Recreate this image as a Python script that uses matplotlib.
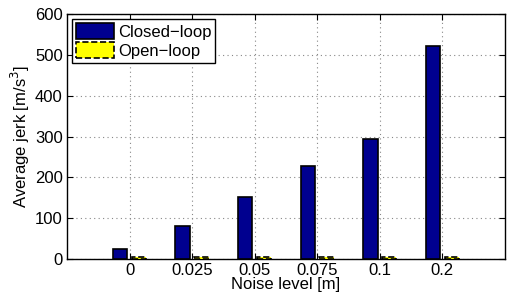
import matplotlib
matplotlib.use('Agg')
import matplotlib.pyplot as plt
import numpy as np

plt.rcParams['font.family'] = ['Liberation Sans', 'DejaVu Sans']
plt.rcParams['font.size'] = 12

noise = ['0', '0.025', '0.05', '0.075', '0.1', '0.2']
closed_loop = [25, 82, 153, 228, 294, 521]
open_loop = [4, 4, 4, 4, 4, 4]

x = np.arange(1, len(noise) + 1)
w = 0.23

fig = plt.figure(figsize=(5.07, 3.01), dpi=100)
ax = fig.add_axes([0.132, 0.1395, 0.864, 0.8135])

ax.bar(x - 0.15, closed_loop, w, color='#00008f', edgecolor='black', linewidth=1.2,
       label='Closed\u2212loop', zorder=3)
ax.bar(x + 0.15, open_loop, w, color='yellow', edgecolor='black', linewidth=1.2,
       linestyle='--', label='Open\u2212loop', zorder=3)

ax.set_xlim(0, 7)
ax.set_ylim(0, 600)
ax.set_xticks(x)
ax.set_xticklabels(noise)
ax.set_yticks(np.arange(0, 601, 100))
ax.grid(True, linestyle=(0, (1, 3)), color='#888888', linewidth=0.8, zorder=0)
ax.tick_params(direction='in', top=True, right=True, length=4, pad=3)
for s in ax.spines.values():
    s.set_linewidth(1.0)

ax.set_xlabel('Noise level [m]', labelpad=-1)
ax.set_ylabel('Average jerk [m/s$^3$]', labelpad=2)

leg = ax.legend(loc='upper left', fancybox=False, edgecolor='black', framealpha=1,
                borderaxespad=0.3, handlelength=2.3, handleheight=1.1,
                handletextpad=0.2, borderpad=0.25, labelspacing=0.15)
leg.get_frame().set_linewidth(1.0)

fig.savefig('out.png', dpi=100)
